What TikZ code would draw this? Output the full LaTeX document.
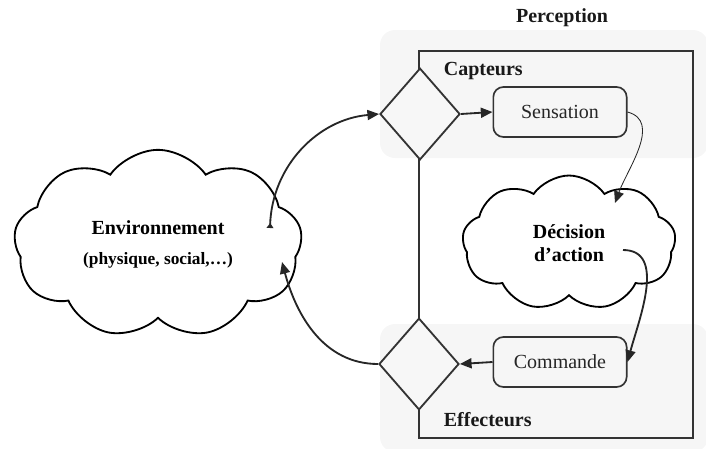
\documentclass[tikz,border=0pt]{standalone}
\usepackage{fontspec}
\setmainfont{Liberation Serif}
\usetikzlibrary{arrows.meta, shapes.geometric, shapes.symbols, positioning, backgrounds}

\begin{document}
\begin{tikzpicture}[
    x=0.6pt, y=-0.6pt,
    font=\fontsize{12}{14}\selectfont,
    panel/.style={fill=gray!7, rounded corners=9pt},
    gate/.style={diamond, draw=black!80, fill=gray!6, line width=1.1pt, minimum width=48pt, minimum height=55pt, inner sep=0pt},
    box/.style={rectangle, draw=black!80, fill=gray!7, rounded corners=6pt, line width=1pt, minimum width=80pt, minimum height=30pt, text=black!85},
    nuage/.style={cloud, cloud puffs=9, cloud puff arc=110, cloud ignores aspect, draw=black, line width=1.1pt, fill=white, align=center, font=\fontsize{12}{14}\selectfont\bfseries},
    arrow/.style={-{Triangle[length=7pt, width=6pt]}, draw=black!85, line width=1.1pt},
    thinarrow/.style={-{Triangle[length=7pt, width=6pt]}, draw=black!85, line width=0.5pt},
    title/.style={font=\fontsize{12}{14}\selectfont\bfseries, text=black!90}
]
\useasboundingbox (0,0) rectangle (706,448);

% shaded zones
\fill[panel] (380,30) rectangle (708,158);
\fill[panel] (380,324) rectangle (708,452);
\draw[line width=1.6pt, black!80] (419,51) rectangle (693,438);

\node[title] (perc) at (562,18) {Perception};
\node[title, anchor=west] (captlbl) at (438,71) {Capteurs};
\node[title, anchor=west] (effelbl) at (438,420) {Effecteurs};

\node[gate] (capt) at (420,114) {};
\node[gate] (effe) at (419,364) {};
\node[box] (sens) at (560,112) {Sensation};
\node[box] (cmd) at (560,362) {Commande};

\node[nuage, minimum width=128pt, minimum height=81pt] (dec) at (569,243) {D\'ecision\\d'action};
\node[nuage, minimum width=173pt, minimum height=113pt] (env) at (158,244)
    {Environnement\\[4pt]{\fontsize{10.4}{12}\selectfont (physique, social,\dots)}};

% connector ends inside the clouds
\coordinate (decin) at (615,203);
\coordinate (decout) at (623,250);
\coordinate (envout) at (270,228);
\coordinate (envin) at (282,262);

\draw[arrow] (capt.east) -- (sens.west);
\draw[arrow] (cmd.west) -- (effe.east);
\draw[thinarrow] (sens.east) to[out=-15, in=70] (decin);
\draw[arrow] (decout) to[out=0, in=75] (cmd.east);
\draw[arrow, {Triangle[length=3pt, width=4pt, reversed]}-{Triangle[length=7pt, width=6pt]}] (envout) to[out=88, in=185] (capt.west);
\draw[arrow] (effe.west) to[out=180, in=-75] (envin);

\end{tikzpicture}
\end{document}
